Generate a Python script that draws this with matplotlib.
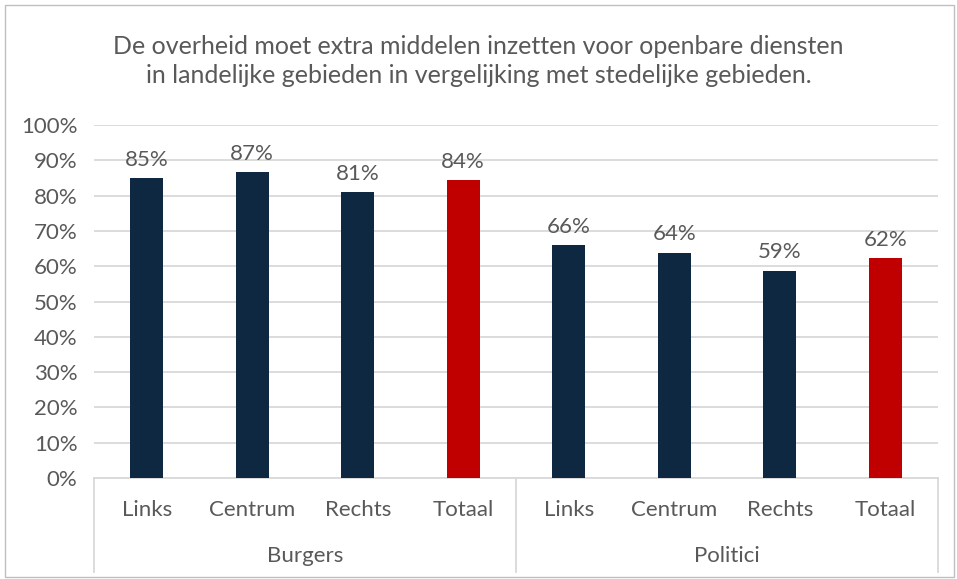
import matplotlib.pyplot as plt
from matplotlib.patches import Rectangle
from matplotlib.lines import Line2D

plt.rcParams['font.family'] = ['Lato', 'DejaVu Sans']

groups = ['Burgers', 'Politici']
categories = ['Links', 'Centrum', 'Rechts', 'Totaal']
values = [84.9, 86.6, 81.0, 84.3, 66.0, 63.8, 58.7, 62.2]
labels = ['85%', '87%', '81%', '84%', '66%', '64%', '59%', '62%']
title = ('De overheid moet extra middelen inzetten voor openbare diensten\n'
         'in landelijke gebieden in vergelijking met stedelijke gebieden.')

navy = '#0E2841'
red = '#C00000'
txt = '#595959'
grid = '#D9D9D9'

fig = plt.figure(figsize=(9.57, 5.79), dpi=100)
W, H = 957, 579
ax = fig.add_axes([94 / W, (H - 478) / H, (938 - 94) / W, (478 - 125) / H])

n = len(values)
x = list(range(n))
colors = [red if i % 4 == 3 else navy for i in x]
ax.bar(x, values, width=0.31, color=colors, zorder=3)
for xi, v, lab in zip(x, values, labels):
    ax.annotate(lab, (xi, v), xytext=(0, 6), textcoords='offset points',
                ha='center', va='bottom', fontsize=16, color=txt)

ax.set_xlim(-0.5, n - 0.5)
ax.set_ylim(0, 100)
ax.set_yticks(range(0, 101, 10))
ax.set_yticklabels([f'{t}%' for t in range(0, 101, 10)])
ax.tick_params(axis='y', length=0, labelsize=16, labelcolor=txt, pad=12)
ax.set_xticks([])
ax.grid(axis='y', color=grid, linewidth=1.3, zorder=0)
for s in ['top', 'right', 'left']:
    ax.spines[s].set_visible(False)
ax.spines['bottom'].set_color(grid)
ax.spines['bottom'].set_linewidth(1.3)

# category labels (two levels)
trans = ax.get_xaxis_transform()
for i in x:
    ax.text(i, -32 / 353, categories[i % 4], transform=trans, ha='center',
            va='center', fontsize=16, color=txt)
for g, name in enumerate(groups):
    ax.text(g * 4 + 1.5, -78 / 353, name, transform=trans, ha='center',
            va='center', fontsize=16, color=txt)
for xs in [-0.5, 3.5, 7.5]:
    ax.add_line(Line2D([xs, xs], [0, -94 / 353], transform=trans,
                       color=grid, linewidth=1.3, clip_on=False))

fig.text(0.5, (H - 61) / H, title, ha='center', va='center', fontsize=18,
         color=txt, linespacing=1.3)

fig.patches.append(Rectangle((5 / W, 2 / H), (W - 8) / W, (H - 7) / H,
                             transform=fig.transFigure, fill=False,
                             edgecolor='#BFBFBF', linewidth=1))

fig.savefig('out.png', dpi=100)
